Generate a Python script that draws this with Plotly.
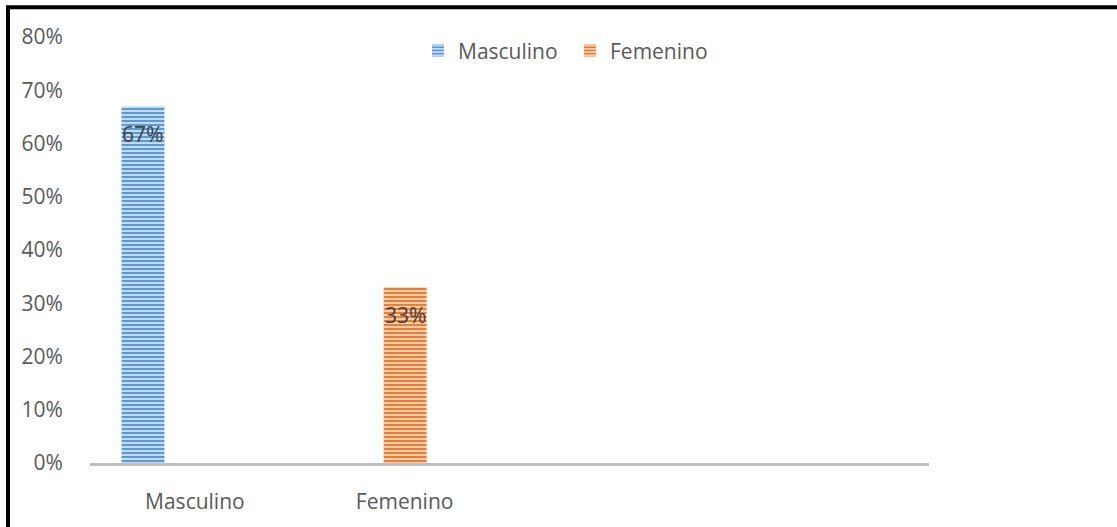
import plotly.graph_objects as go

# Distribution by sex
categories = ["Masculino", "Femenino"]
series_names = ["Masculino", "Femenino"]
values = [0.67, 0.33]

y_ticks = [0, 0.1, 0.2, 0.3, 0.4, 0.5, 0.6, 0.7, 0.8]
y_tick_labels = ["0%", "10%", "20%", "30%", "40%", "50%", "60%", "70%", "80%"]

base_colors = ["#5B9BD5", "#ED7D31"]
stripe_colors = ["#CFE2F4", "#FBD8C0"]
bar_offsets = [-0.35, -0.1]
bar_width = 0.205

FONT = "Open Sans, Liberation Sans, sans-serif"
W, H = 1117, 527
L, R, T, B = 90, 188, 37, 59
PW, PH = W - L - R, H - T - B

fig = go.Figure()
for i, (name, val) in enumerate(zip(series_names, values)):
    fig.add_trace(go.Bar(
        name=name,
        x=[i],
        y=[val],
        width=bar_width,
        offset=bar_offsets[i],
        marker=dict(
            color=base_colors[i],
            line=dict(width=0),
            pattern=dict(shape="-", size=4, solidity=0.45,
                         fgcolor=stripe_colors[i], bgcolor=base_colors[i],
                         fillmode="replace"),
        ),
        hoverinfo="skip",
    ))
    fig.add_annotation(
        x=i + bar_offsets[i] + bar_width / 2, y=val, xref="x", yref="y",
        text=f"{round(val * 100)}%", showarrow=False, yshift=-28,
        font=dict(family=FONT, size=21, color="#404040"),
    )

# outer frame (left and top edges visible)
def px_x(p):
    return (p - L) / PW

def px_y(p):
    return (H - B - p) / PH

fig.add_shape(type="rect", xref="paper", yref="paper",
              x0=px_x(8), x1=px_x(1130), y0=px_y(540), y1=px_y(7),
              line=dict(color="black", width=4), fillcolor="rgba(0,0,0,0)",
              layer="above")

fig.update_layout(
    width=W, height=H,
    margin=dict(l=L, r=R, t=T, b=B),
    paper_bgcolor="white", plot_bgcolor="white",
    barmode="overlay",
    showlegend=True,
    legend=dict(
        orientation="h", x=px_x(418), y=px_y(51), xanchor="left", yanchor="middle",
        font=dict(family=FONT, size=21, color="#595959"),
        bgcolor="rgba(0,0,0,0)", itemwidth=30, entrywidth=107,
    ),
    xaxis=dict(
        range=[-0.5, 3.5], tickvals=[0, 1], ticktext=categories,
        showgrid=False, zeroline=False, showline=True,
        linecolor="#BFBFBF", linewidth=3,
        ticks="outside", ticklen=18, tickcolor="rgba(0,0,0,0)",
        tickfont=dict(family=FONT, size=21, color="#595959"),
    ),
    yaxis=dict(
        range=[0, 0.8], tickvals=y_ticks, ticktext=y_tick_labels,
        showgrid=False, zeroline=False, showline=False,
        ticks="outside", ticklen=22, tickcolor="rgba(0,0,0,0)",
        tickfont=dict(family=FONT, size=21, color="#595959"),
    ),
)

fig.write_html("out.html")
